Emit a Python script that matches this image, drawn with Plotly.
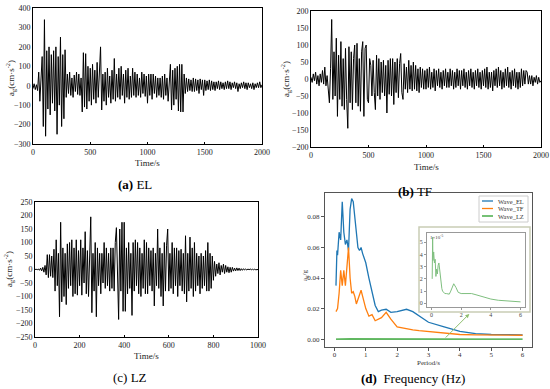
import plotly.graph_objects as go

# ---------------- data ----------------
t_el = [i * 10 for i in range(201)]
EL = [-15, 10, -20, 5, -25, 70, -80, 60, 150, -210,
      340, -260, 180, -120, 200, -150, 160, -90, 180, -130,
      200, -250, 150, -100, 250, -210, 160, -170, 185, -60,
      60, -40, 70, -50, 40, -60, 55, -30, 70, -45,
      60, -50, 40, -135, 170, -110, 165, -120, 100, -80,
      90, -100, 110, -70, 80, -90, 120, -60, 60, 200,
      -125, 60, -80, 70, -100, 90, -60, 50, -90, 80,
      -70, 140, -80, 60, -60, 90, -70, 100, -50, 60,
      -90, 80, -60, 90, -70, 50, -60, 90, -50, 70,
      -60, 60, -50, 40, -60, 70, -40, 60, -55, 50,
      -90, 60, -50, 60, -70, 60, -40, 50, -60, 40,
      -50, 40, -60, 50, -70, 60, -50, 40, -80, 60,
      110, -125, 80, -100, 90, -70, 100, -130, 110, -135,
      110, -135, 60, -40, 40, -30, 35, -25, 30, -30,
      40, -30, 35, -25, 30, -40, 35, -20, 30, -50,
      30, -25, 25, -20, 30, -25, 25, -20, 20, -25,
      20, -15, 25, -20, 20, -15, 15, -20, 20, -15,
      25, -15, 20, -20, 15, -10, 20, -15, 15, -30,
      10, -15, 15, -10, 20, -15, 15, -20, 15, -10,
      10, -15, 15, -20, 10, -10, 15, -10, 20, -10, 5]

t_tf = [i * 10 for i in range(201)]
TF = [5, -10, 15, -5, 20, -15, 10, -20, 15, -10,
      25, -15, 35, -20, 10, -30, -70, 30, 175, -60,
      80, -50, 120, -110, 70, -60, 110, -80, 60, -90,
      90, -60, -145, 95, -70, 80, -90, 60, 100, -70,
      105, -80, 60, -95, 80, 110, -110, 90, 100, -60,
      -70, 60, 40, -50, 55, -40, -90, 70, -50, 60,
      -60, 50, -40, 55, -50, 40, -100, 55, -45, 60,
      -50, 60, -75, 50, -40, 60, -55, 45, 75, -40,
      -60, 45, -30, 35, -40, 55, -30, 40, -35, 50,
      -30, 40, -35, 30, -40, 35, -25, 30, -30, 25,
      -30, 30, -25, 35, -30, 20, -25, 30, -35, 25,
      -20, 30, -25, 20, -30, 25, -20, 30, -25, 20,
      -25, 30, -20, 25, -30, 20, -25, 30, -20, 25,
      -30, 25, -20, 30, -25, 20, -30, 25, -20, 30,
      -25, 20, -30, 25, -20, 30, -25, 20, -30, 25,
      -20, 30, -25, 35, -30, 20, -25, 20, -35, 25,
      -20, 30, -25, 35, -20, 25, -30, 20, -25, 30,
      -20, 35, -25, 20, -30, 25, -20, 30, -25, 20,
      -30, 20, -25, 30, -20, 25, -15, 25, 20, -15,
      10, -15, 10, -20, 5, -10, 10, -15, 5, -10, -5]

t_lz = [i * 5 for i in range(201)]
LZ = [0, 1, -1, 2, -3, 5, -5, 8, -10, 15,
      -20, 55, -30, 55, -25, 50, -30, 75, -80, 110,
      -60, 60, -175, 175, -120, 80, -100, 60, -130, 95,
      -70, 100, -60, 110, -100, 80, -90, 110, -95, 70,
      -60, 110, -95, 80, -50, 140, -90, 70, -100, 90,
      195, -160, 60, -80, 100, -175, 80, -60, 60, -90,
      60, -50, 100, -70, 80, -60, 60, -80, 80, -70,
      80, -80, 100, 155, -60, -185, 150, -80, 175, -155,
      175, -155, 80, -90, 100, -70, 60, -170, 100, -80,
      110, -60, 100, -90, 80, -100, 60, -70, 110, -90,
      100, -90, 80, -60, 70, -80, 80, -135, 60, -60,
      150, -70, 80, -100, 60, -135, 100, -80, 90, 150,
      -80, 60, -70, 100, -90, 80, -60, 80, -100, 70,
      -60, 75, -80, 60, -90, 125, -120, 60, -80, 120,
      -70, 80, -100, 100, -80, 60, -60, 50, -90, 60,
      -70, 50, -60, 70, -80, 100, -80, 60, -70, 50,
      -40, 30, -25, 20, -15, 25, -20, 15, -10, 20,
      -15, 15, -10, 10, -12, 8, -10, 8, -6, 5,
      -5, 6, -4, 5, -4, 3, -3, 3, -2, 2,
      -2, 2, -1, 2, -1, 1, -1, 1, -1, 1, 0]

period = [0.05, 0.08, 0.1, 0.15, 0.2, 0.25, 0.3, 0.35, 0.4, 0.45, 0.5, 0.55, 0.6,
          0.65, 0.7, 0.75, 0.8, 0.85, 0.9, 1.0, 1.1, 1.2, 1.3, 1.4, 1.5, 1.65, 1.8,
          2.0, 2.3, 2.5, 2.7, 3.0, 3.5, 4.0, 4.5, 5.0, 6.0]
spec_EL = [0.035, 0.058, 0.055, 0.07, 0.065, 0.09, 0.07, 0.062, 0.065, 0.058, 0.085,
           0.092, 0.09, 0.08, 0.07, 0.06, 0.058, 0.06, 0.056, 0.05, 0.04, 0.03, 0.022,
           0.018, 0.019, 0.0195, 0.0175, 0.018, 0.0195, 0.018, 0.015, 0.011, 0.008,
           0.005, 0.0035, 0.003, 0.0028]
spec_TF = [0.018, 0.019, 0.02, 0.03, 0.045, 0.035, 0.045, 0.035, 0.048, 0.06, 0.04,
           0.03, 0.031, 0.028, 0.023, 0.026, 0.028, 0.032, 0.028, 0.02, 0.015, 0.016,
           0.012, 0.013, 0.014, 0.0175, 0.013, 0.008, 0.0065, 0.006, 0.0055, 0.005,
           0.004, 0.003, 0.0028, 0.0027, 0.0025]
spec_LZ_e5 = [2.0, 5.4, 3.5, 4.2, 3.3, 3.6, 2.2, 2.8, 2.4, 3.1, 3.3, 2.8, 2.0, 1.5, 1.2,
              1.0, 0.9, 0.85, 0.8, 0.8, 0.75, 0.75, 1.0, 1.3, 1.6, 1.3, 0.9, 0.8, 0.8,
              0.75, 0.8, 0.7, 0.5, 0.35, 0.25, 0.2, 0.12]
spec_LZ = [v * 1e-5 for v in spec_LZ_e5]
legend_names = ["Wave_EL", "Wave_TF", "Wave_LZ"]

# ---------------- figure ----------------
W, H = 550, 389
def px(x):
    return x / W
def py(y):
    return 1 - y / H

SERIF = "Liberation Serif"
BLUE, ORANGE, GREEN = "#1f77b4", "#ff7f0e", "#2ca02c"
COLORS = [BLUE, ORANGE, GREEN]

fig = go.Figure()
fig.add_trace(go.Scatter(x=t_el, y=EL, mode="lines", line=dict(color="black", width=1),
                         xaxis="x", yaxis="y", showlegend=False))
fig.add_trace(go.Scatter(x=t_tf, y=TF, mode="lines", line=dict(color="black", width=1),
                         xaxis="x2", yaxis="y2", showlegend=False))
fig.add_trace(go.Scatter(x=t_lz, y=LZ, mode="lines", line=dict(color="black", width=1),
                         xaxis="x3", yaxis="y3", showlegend=False))
for name, vals, col in zip(legend_names, [spec_EL, spec_TF, spec_LZ], COLORS):
    fig.add_trace(go.Scatter(x=period, y=vals, mode="lines", name=name, showlegend=False,
                             line=dict(color=col, width=1.3), xaxis="x4", yaxis="y4"))
fig.add_trace(go.Scatter(x=period, y=spec_LZ_e5, mode="lines", showlegend=False,
                         line=dict(color="#7fbf7f", width=1), xaxis="x5", yaxis="y5"))

tickfont = dict(family=SERIF, size=8, color="#222")
def wave_axes(xdom, ydom, xr, yr, xd, yd):
    xa = dict(domain=xdom, range=xr, dtick=xd, showgrid=False, zeroline=False, automargin=False,
              showline=True, linecolor="black", linewidth=1, mirror=True,
              ticks="inside", ticklen=2, tickcolor="black", tickfont=tickfont)
    ya = dict(domain=ydom, range=yr, dtick=yd, showgrid=False, zeroline=False, automargin=False,
              showline=True, linecolor="black", linewidth=1, mirror=True,
              ticks="", tickfont=tickfont)
    return xa, ya

xa1, ya1 = wave_axes([px(33), px(262)], [py(144), py(8)], [0, 2000], [-300, 400], 500, 100)
xa2, ya2 = wave_axes([px(311), px(541)], [py(147), py(11)], [0, 2000], [-200, 200], 500, 50)
xa3, ya3 = wave_axes([px(35), px(258)], [py(337), py(202)], [0, 1000], [-250, 250], 200, 50)
ya1["anchor"] = "x"; xa1["anchor"] = "y"
xa2["anchor"] = "y2"; ya2["anchor"] = "x2"
xa3["anchor"] = "y3"; ya3["anchor"] = "x3"

dfont = dict(family=SERIF, size=7, color="#333")
xa4 = dict(domain=[px(325), px(532)], range=[-0.3, 6.3], dtick=1, anchor="y4", automargin=False,
           showgrid=False, zeroline=False, showline=True, linecolor="#555", linewidth=1,
           mirror=True, ticks="outside", ticklen=3, tickcolor="#555", tickfont=dfont,
           ticklabelstandoff=-2)
ya4 = dict(domain=[py(347), py(193)], range=[-0.0052, 0.0957], tickvals=[0, 0.02, 0.04, 0.06, 0.08],
           tickformat=".2f", anchor="x4", automargin=False,
           showgrid=False, zeroline=False, showline=True, linecolor="#555", linewidth=1,
           mirror=True, ticks="outside", ticklen=3, tickcolor="#555", tickfont=dfont)
ifont = dict(family=SERIF, size=6, color="#444")
xa5 = dict(domain=[px(427), px(525)], range=[-0.3, 6.3], tickvals=[0, 2, 4, 6], anchor="y5",
           automargin=False,
           showgrid=False, zeroline=False, showline=True, linecolor="#999", linewidth=1,
           mirror=True, ticks="outside", ticklen=2, tickcolor="#999", tickfont=ifont)
ya5 = dict(domain=[py(307), py(233)], range=[-0.3, 5.75], tickvals=[0, 1, 2, 3, 4, 5], anchor="x5",
           automargin=False,
           showgrid=False, zeroline=False, showline=True, linecolor="#999", linewidth=1,
           mirror=True, ticks="outside", ticklen=2, tickcolor="#999", tickfont=ifont)

capfont = dict(family=SERIF, size=13, color="black")
tfont = dict(family=SERIF, size=9, color="#222")
def label(text, x, y, font, angle=0, xanchor="center", yanchor="middle"):
    return dict(text=text, x=px(x), y=py(y), xref="paper", yref="paper", showarrow=False,
                font=font, textangle=angle, xanchor=xanchor, yanchor=yanchor)

ytitle = "a<sub>g</sub>(cm·s<sup>-2</sup>)"
annotations = [
    label("<b>(a)</b> EL", 135, 185, capfont),
    label("<b>(b)</b> TF", 415, 191, capfont),
    label("(c) LZ", 130, 377, capfont),
    label("<b>(d)</b>  Frequency (Hz)", 413, 378, capfont),
    label("Time/s", 147, 163, tfont),
    label("Time/s", 426, 167, tfont),
    label("Time/s", 146, 356, tfont),
    label(ytitle, 10, 78, tfont, -90),
    label(ytitle, 285, 79, tfont, -90),
    label(ytitle, 8, 269, tfont, -90),
    label("Period/s", 428, 363, dfont),
    label("a<sub>g</sub>/g", 305, 275, dfont, -90),
    label("1×10<sup>-5</sup>", 428, 232, dict(family=SERIF, size=5, color="#444"),
          xanchor="left", yanchor="top"),
    dict(x=4.3, y=0.0165, ax=3.5, ay=0, xref="x4", yref="y4", axref="x4", ayref="y4",
         showarrow=True, arrowhead=2, arrowsize=0.8, arrowwidth=1, arrowcolor="#8fbf6f", text=""),
]

shapes = [
    dict(type="rect", xref="paper", yref="paper", x0=px(419), x1=px(530), y0=py(312), y1=py(227),
         line=dict(color="#c9cdb5", width=1.5), fillcolor="white", layer="below"),
    dict(type="rect", xref="paper", yref="paper", x0=px(479), x1=px(528), y0=py(222), y1=py(196),
         line=dict(color="#ccc", width=1), fillcolor="white"),
]
# compact legend
for i, (name, col) in enumerate(zip(legend_names, COLORS)):
    yy = 201 + i * 7.5
    shapes.append(dict(type="line", xref="paper", yref="paper", x0=px(482), x1=px(493),
                       y0=py(yy), y1=py(yy), line=dict(color=col, width=1.3)))
    annotations.append(label(name, 496, yy, dict(family=SERIF, size=6.5, color="#333"),
                             xanchor="left", yanchor="middle"))

fig.update_layout(
    width=W, height=H, margin=dict(l=0, r=0, t=0, b=0),
    paper_bgcolor="white", plot_bgcolor="rgba(0,0,0,0)",
    xaxis=xa1, yaxis=ya1, xaxis2=xa2, yaxis2=ya2, xaxis3=xa3, yaxis3=ya3,
    xaxis4=xa4, yaxis4=ya4, xaxis5=xa5, yaxis5=ya5,
    annotations=annotations, shapes=shapes, showlegend=False,
)

fig.write_html("out.html", config={"displayModeBar": False},
               post_script="document.body.style.margin='0';document.body.style.overflow='hidden';")
